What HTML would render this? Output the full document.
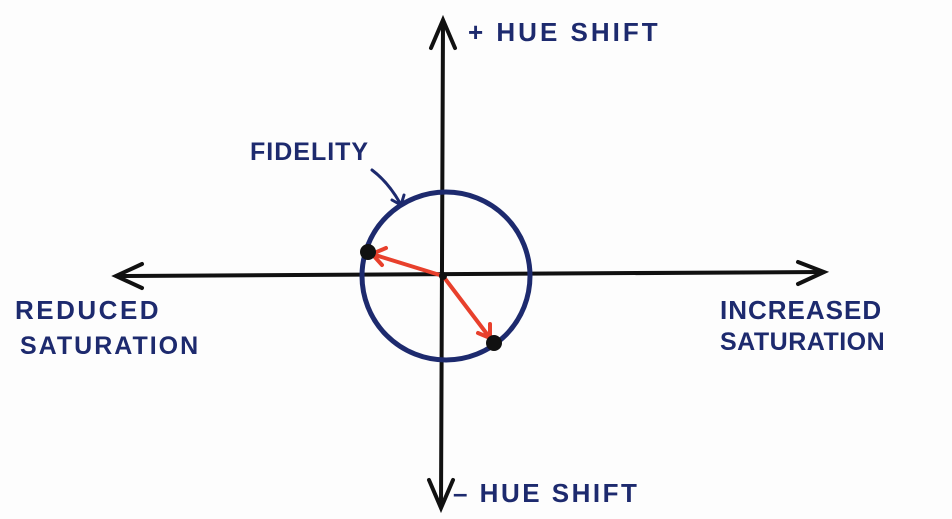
<!DOCTYPE html>
<html><head><style>
html,body{margin:0;padding:0;background:#fdfdfd;}
body{width:952px;height:519px;overflow:hidden;position:relative;}
.t{position:absolute;font-family:"Liberation Sans",sans-serif;color:#1d2a6e;font-weight:bold;white-space:nowrap;letter-spacing:1px;}
</style></head><body>
<svg width="952" height="519" style="position:absolute;left:0;top:0">
<g stroke="#111" stroke-width="4" fill="none" stroke-linecap="round">
<line x1="118" y1="276" x2="822" y2="272"/>
<polyline points="142,264 116,276 142,288"/>
<polyline points="798,262 824,272 798,284"/>
<line x1="443" y1="22" x2="441" y2="506"/>
<polyline points="431,48 443,20 455,48"/>
<polyline points="429,480 441,508 453,480"/>
</g>
<circle cx="446" cy="276" r="84" stroke="#1d2a6e" stroke-width="5" fill="none"/>
<g stroke="#e8402c" stroke-width="4" fill="none" stroke-linecap="round">
<line x1="443" y1="276" x2="372" y2="254"/>
<polyline points="386,248 372,254 382,265"/>
<line x1="443" y1="276" x2="490" y2="338"/>
<polyline points="478,333 490,338 490,324"/>
</g>
<circle cx="368" cy="252" r="8" fill="#111"/>
<circle cx="494" cy="343" r="8" fill="#111"/>
<circle cx="443" cy="276" r="4" fill="#111"/>
<g stroke="#1d2a6e" stroke-width="3" fill="none" stroke-linecap="round">
<path d="M372,170 Q388,182 400,203"/>
<polyline points="392,200 401,205 404,195"/>
</g>
</svg>
<div class="t" style="left:468px;top:17px;font-size:26px;letter-spacing:3px;">+ HUE SHIFT</div>
<div class="t" style="left:250px;top:138px;font-size:25px;">FIDELITY</div>
<div class="t" style="left:15px;top:295px;font-size:26px;letter-spacing:2.5px;">REDUCED</div>
<div class="t" style="left:20px;top:332px;font-size:25px;letter-spacing:2px;">SATURATION</div>
<div class="t" style="left:720px;top:295px;font-size:26px;">INCREASED</div>
<div class="t" style="left:720px;top:328px;font-size:25px;letter-spacing:0.5px;">SATURATION</div>
<div class="t" style="left:453px;top:478px;font-size:26px;letter-spacing:2.5px;">– HUE SHIFT</div>
</body></html>
